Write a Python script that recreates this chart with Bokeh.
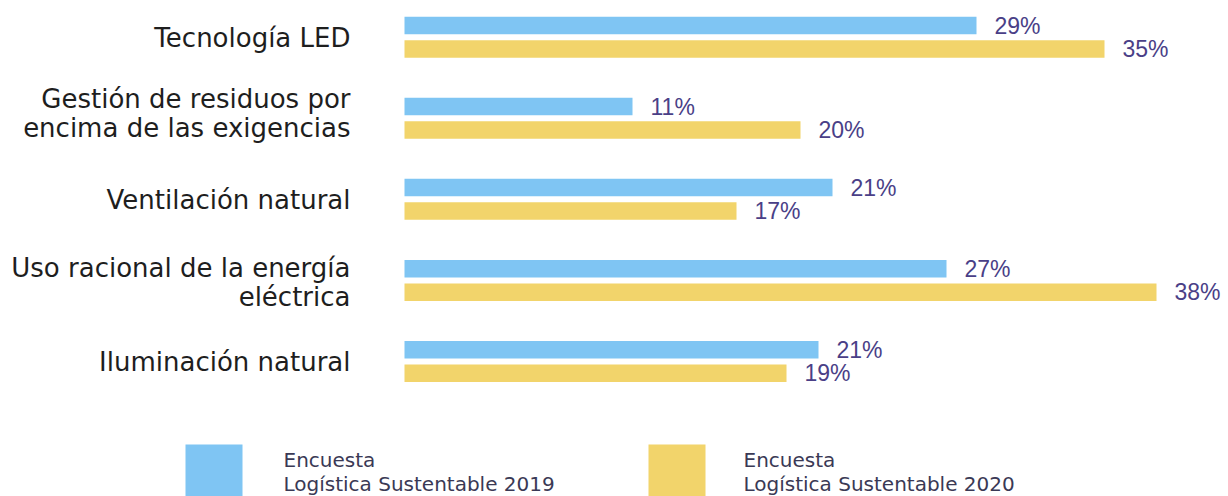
from bokeh.plotting import figure
from bokeh.models import Range1d, ColumnDataSource
from bokeh.core.properties import value
from bokeh.embed import file_html
from bokeh.resources import INLINE

# ---- data ----
categories = [
    "Tecnología LED",
    "Gestión de residuos por\nencima de las exigencias",
    "Ventilación natural",
    "Uso racional de la energía\neléctrica",
    "Iluminación natural",
]
survey_2019 = [28.6, 11.4, 21.4, 27.1, 20.7]
survey_2020 = [35.0, 19.8, 16.6, 37.6, 19.1]
labels_2019 = ["29%", "11%", "21%", "27%", "21%"]
labels_2020 = ["35%", "20%", "17%", "38%", "19%"]
series_names = ["Encuesta\nLogística Sustentable 2019",
                "Encuesta\nLogística Sustentable 2020"]
colors = ["#7FC5F3", "#F2D46B"]

# ---- layout (pixels) ----
W, H = 1228, 496
PX_PER_UNIT = 20.0          # pixels per percent
ZERO_X = 404                # zero line in pixels
ROW0_Y = 36.75              # first group centre in pixels
ROW_STEP = 81.06            # pixels between groups
CAT_LINE = 29.2             # line spacing of category labels (px)
label_shift_px = [0.5, -4.5, 0.5, 2.0, 0.5]

x0 = -ZERO_X / PX_PER_UNIT
x1 = x0 + W / PX_PER_UNIT
y_top = -ROW0_Y / ROW_STEP
y_bot = y_top + H / ROW_STEP


def px_x(px):
    return (px - ZERO_X) / PX_PER_UNIT


def px_y(py):
    return (py - ROW0_Y) / ROW_STEP


p = figure(width=W, height=H, output_backend="svg", toolbar_location=None,
           x_range=Range1d(x0, x1), y_range=Range1d(y_bot, y_top),
           min_border=0, outline_line_color=None,
           x_axis_location=None, y_axis_location=None)
p.xgrid.visible = False
p.ygrid.visible = False
p.background_fill_color = "white"
p.border_fill_color = "white"

idx = list(range(len(categories)))
offset = 11.75 / ROW_STEP
bar_h = 17.5 / ROW_STEP

src19 = ColumnDataSource(dict(y=[i - offset for i in idx], v=survey_2019,
                              lx=[v + 0.9 for v in survey_2019], lab=labels_2019))
src20 = ColumnDataSource(dict(y=[i + offset for i in idx], v=survey_2020,
                              lx=[v + 0.9 for v in survey_2020], lab=labels_2020))

p.hbar(y="y", left=0, right="v", height=bar_h, source=src19,
       fill_color=colors[0], line_color=None)
p.hbar(y="y", left=0, right="v", height=bar_h, source=src20,
       fill_color=colors[1], line_color=None)

for src in (src19, src20):
    p.text(x="lx", y="y", text="lab", source=src,
           text_font=value("Liberation Sans"), text_font_size="23px",
           text_color="#4A3F87", text_align="left", text_baseline="middle")

# category labels, one text per line
cx, cy, ct = [], [], []
for i, cat in enumerate(categories):
    lines = cat.split("\n")
    n = len(lines)
    for j, line in enumerate(lines):
        dy = (j - (n - 1) / 2) * CAT_LINE + label_shift_px[i]
        cx.append(px_x(350))
        cy.append(i + dy / ROW_STEP)
        ct.append(line)
p.text(x="x", y="y", text="t", source=ColumnDataSource(dict(x=cx, y=cy, t=ct)),
       text_font=value("DejaVu Sans"), text_font_size="26px",
       text_color="#1E1E1E", text_align="right", text_baseline="middle")

# ---- legend ----
sq_left = [px_x(185), px_x(648)]
sq_w = 57 / PX_PER_UNIT
txt_x = [px_x(283), px_x(743)]
for k in range(2):
    p.quad(left=[sq_left[k]], right=[sq_left[k] + sq_w],
           top=[px_y(444)], bottom=[px_y(520)],
           fill_color=colors[k], line_color=None)
    lines = series_names[k].split("\n")
    for j, line in enumerate(lines):
        p.text(x=[txt_x[k]], y=[px_y(459 + 24.6 * j)], text=[line],
               text_font=value("DejaVu Sans"), text_font_size="20px",
               text_color="#3A3955", text_align="left",
               text_baseline="middle")

open("out.html", "w").write(file_html(p, INLINE))
